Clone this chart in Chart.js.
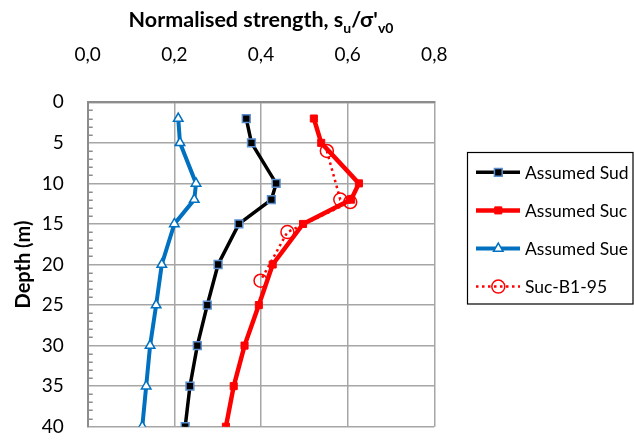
<!DOCTYPE html>
<html>
<head>
<meta charset="utf-8">
<script src="https://cdn.jsdelivr.net/npm/chart.js@4.4.1/dist/chart.umd.min.js"></script>
<style>
  html, body { margin: 0; padding: 0; background: #ffffff; }
  #wrap { width: 634px; height: 440px; position: relative; }
</style>
</head>
<body>
<div id="wrap"><canvas id="chart" width="634" height="440"></canvas></div>
<script>
// ---- Data ----
const depths      = [2, 5, 10, 12, 15, 20, 25, 30, 35, 40];
const sudValues   = [0.366, 0.378, 0.435, 0.424, 0.349, 0.301, 0.276, 0.253, 0.236, 0.225];
const sucValues   = [0.522, 0.539, 0.626, 0.608, 0.497, 0.427, 0.395, 0.362, 0.337, 0.319];
const sueValues   = [0.209, 0.213, 0.250, 0.246, 0.200, 0.171, 0.158, 0.144, 0.135, 0.126];
const b1Depths    = [6, 12, 12.3, 16, 22];
const b1Values    = [0.552, 0.583, 0.606, 0.461, 0.399];
const seriesNames = ['Assumed Sud', 'Assumed Suc', 'Assumed Sue', 'Suc-B1-95'];
const xTickValues = [0, 0.2, 0.4, 0.6, 0.8];
const xTickLabels = ['0,0', '0,2', '0,4', '0,6', '0,8'];
const yTickValues = [0, 5, 10, 15, 20, 25, 30, 35, 40];
const yTickLabels = ['0', '5', '10', '15', '20', '25', '30', '35', '40'];
const xTitleParts = [['Normalised strength, s', false], ['u', true], ['/\u03C3\'', false], ['v0', true]];
const yTitle      = 'Depth (m)';

function pairs(xs, ys) { return xs.map((x, i) => ({ x: x, y: ys[i] })); }

const FONT = 'Lato, "Open Sans", "Liberation Sans", sans-serif';

// ---- Layout targets ----
const AREA = { left: 87.7, right: 434.3, top: 102.3, bottom: 426.7 };
const PAD = { left: 8, top: 0, right: 634 - AREA.right, bottom: 440 - AREA.bottom };

function findLabel(values, labels, v) {
  for (let i = 0; i < values.length; i++) if (Math.abs(values[i] - v) < 1e-6) return labels[i];
  return '';
}

const minorTicks = {
  id: 'minorTicks',
  afterDatasetsDraw(chart) {
    const y = chart.scales.y, ctx = chart.ctx, left = chart.chartArea.left;
    ctx.save();
    ctx.strokeStyle = '#8c8c8c';
    ctx.lineWidth = 1.5;
    for (let d = 1; d < 40; d++) {
      if (d % 5 === 0) continue;
      const py = Math.round(y.getPixelForValue(d)) + 0.25;
      ctx.beginPath();
      ctx.moveTo(left, py);
      ctx.lineTo(left + 5, py);
      ctx.stroke();
    }
    ctx.restore();
  }
};

const subTitle = {
  id: 'subTitle',
  afterDraw(chart) {
    const ctx = chart.ctx;
    const main = 'bold 21.5px ' + FONT, sub = 'bold 14px ' + FONT;
    ctx.save();
    let total = 0;
    xTitleParts.forEach(([t, s]) => { ctx.font = s ? sub : main; total += ctx.measureText(t).width; });
    let x = (chart.chartArea.left + chart.chartArea.right) / 2 - total / 2;
    const base = 27;
    ctx.fillStyle = '#000';
    ctx.textBaseline = 'alphabetic';
    ctx.textAlign = 'left';
    xTitleParts.forEach(([t, s]) => {
      ctx.font = s ? sub : main;
      ctx.fillText(t, x, s ? base + 6 : base);
      x += ctx.measureText(t).width;
    });
    ctx.restore();
  }
};

const boxLegend = {
  id: 'boxLegend',
  afterDraw(chart) {
    const ctx = chart.ctx;
    ctx.save();
    ctx.strokeStyle = '#000';
    ctx.lineWidth = 1.2;
    ctx.strokeRect(467.5, 152.5, 165.5, 151.5);
    chart.data.datasets.forEach((ds, i) => {
      const y = 172.3 + 38.1 * i;
      ctx.save();
      ctx.strokeStyle = ds.borderColor;
      ctx.lineWidth = ds.borderWidth;
      ctx.setLineDash(ds.borderDash || []);
      ctx.lineCap = 'butt';
      ctx.beginPath();
      ctx.moveTo(476, y);
      ctx.lineTo(520, y);
      ctx.stroke();
      ctx.restore();
      ctx.save();
      ctx.fillStyle = ds.pointBackgroundColor;
      ctx.strokeStyle = ds.pointBorderColor;
      ctx.lineWidth = ds.pointBorderWidth;
      Chart.helpers.drawPoint(ctx, { pointStyle: ds.pointStyle, radius: ds.pointRadius, rotation: 0, borderWidth: ds.pointBorderWidth }, 498.3, y);
      ctx.restore();
      ctx.fillStyle = '#000';
      ctx.font = '17.5px ' + FONT;
      ctx.textBaseline = 'middle';
      ctx.textAlign = 'left';
      ctx.fillText(ds.label, 525, y + 1);
    });
    ctx.restore();
  }
};

new Chart(document.getElementById('chart'), {
  type: 'scatter',
  data: {
    datasets: [
      {
        label: seriesNames[0], data: pairs(sudValues, depths), showLine: true, order: 4,
        borderColor: '#000000', borderWidth: 3.5, tension: 0,
        pointStyle: 'rect', pointRadius: 5.5, pointBackgroundColor: '#000000',
        pointBorderColor: '#5b8fd0', pointBorderWidth: 1.5
      },
      {
        label: seriesNames[1], data: pairs(sucValues, depths), showLine: true, order: 3,
        borderColor: '#ff0000', borderWidth: 4.5, tension: 0,
        pointStyle: 'rect', pointRadius: 5, pointBackgroundColor: '#ff0000',
        pointBorderColor: '#ff0000', pointBorderWidth: 1
      },
      {
        label: seriesNames[2], data: pairs(sueValues, depths), showLine: true, order: 2,
        borderColor: '#0070c0', borderWidth: 4, tension: 0,
        pointStyle: 'triangle', pointRadius: 5.5, pointBackgroundColor: '#ffffff',
        pointBorderColor: '#0070c0', pointBorderWidth: 1.5
      },
      {
        label: seriesNames[3], data: pairs(b1Values, b1Depths), showLine: true, order: 1,
        borderColor: '#ff0000', borderWidth: 2.5, borderDash: [2.5, 3.5], tension: 0,
        pointStyle: 'circle', pointRadius: 6.5, pointBackgroundColor: 'rgba(255,255,255,0)',
        pointBorderColor: '#ff0000', pointBorderWidth: 1.5
      }
    ]
  },
  options: {
    responsive: false,
    animation: false,
    devicePixelRatio: 1,
    layout: { padding: PAD },
    plugins: { legend: { display: false }, tooltip: { enabled: false }, title: { display: false } },
    scales: {
      x: {
        type: 'linear', position: 'top', min: 0, max: 0.8,
        afterBuildTicks: s => { s.ticks = xTickValues.map(v => ({ value: v })); },
        afterFit: s => { s.height = AREA.top - PAD.top; s.paddingLeft = 0; s.paddingRight = 0; },
        ticks: {
          padding: 36, color: '#000', font: { family: FONT, size: 19 },
          callback: v => findLabel(xTickValues, xTickLabels, v)
        },
        grid: { color: '#a6a6a6', lineWidth: 1.5, drawTicks: false },
        border: { color: '#8c8c8c', width: 2 }
      },
      y: {
        type: 'linear', position: 'left', min: 0, max: 40, reverse: true,
        afterBuildTicks: s => { s.ticks = yTickValues.map(v => ({ value: v })); },
        afterFit: s => { s.width = AREA.left - PAD.left; s.paddingTop = 0; s.paddingBottom = 0; },
        ticks: {
          padding: 24, color: '#000', font: { family: FONT, size: 19 },
          callback: v => findLabel(yTickValues, yTickLabels, v)
        },
        grid: { color: '#a6a6a6', lineWidth: 1.5, drawTicks: false },
        border: { color: '#8c8c8c', width: 2 },
        title: { display: true, text: yTitle, color: '#000', font: { family: FONT, size: 20, weight: 'bold' }, padding: { top: 4, bottom: 4 } }
      }
    }
  },
  plugins: [minorTicks, subTitle, boxLegend]
});
</script>
</body>
</html>
